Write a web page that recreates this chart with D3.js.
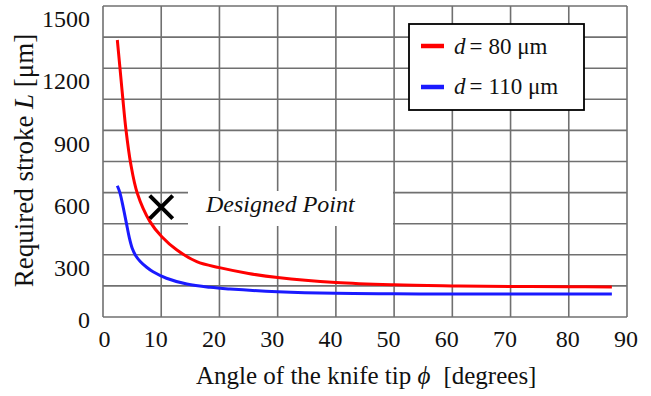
<!DOCTYPE html>
<html>
<head>
<meta charset="utf-8">
<script src="https://cdn.jsdelivr.net/npm/d3@7"></script>
<style>
  html, body { margin: 0; padding: 0; background: #fff; }
</style>
</head>
<body>
<div id="chart"></div>
<script>
// knife tip angle (deg) and required stroke (um)
const redPhi = [2.46, 2.9, 3.4, 3.95, 4.75, 5.89, 8.07, 10.1, 12.7, 16.1, 20, 25, 30, 40, 50, 60, 70, 80, 87.4];
const redL   = [1336, 1205, 1055, 902, 741, 597, 460, 387, 323, 267, 238, 210, 190, 166, 155, 150, 147, 146, 145];
const bluePhi = [2.46, 2.9, 3.5, 4.0, 4.5, 5.0, 5.6, 6.4, 7.5, 8.6, 10.9, 14.4, 18.4, 21.8, 30, 40, 50, 60, 70, 87.4];
const blueL   = [633, 600, 525, 455, 385, 333, 297, 268, 240, 218, 187, 159, 143, 135, 122, 114, 112, 111, 111, 111];
const legendLabels = ['80 \u03bcm', '110 \u03bcm'];
const xTicks = [0, 10, 20, 30, 40, 50, 60, 70, 80, 90];
const yTicks = [0, 300, 600, 900, 1200, 1500];
const yGrid = [150, 300, 450, 600, 750, 900, 1050, 1200, 1350, 1500];
const designPoint = [10, 530];

const FONT = '"Liberation Serif", "Times New Roman", Times, serif';
const W = 651, H = 396;
const svg = d3.select('#chart').append('svg').attr('width', W).attr('height', H);

const x = d3.scaleLinear().domain([0, 90]).range([103, 627]);
const y = d3.scaleLinear().domain([0, 1500]).range([317, 6]);

// grid
const grid = svg.append('g').attr('stroke', '#707070').attr('stroke-width', 1.6);
grid.selectAll('.vg').data(xTicks).enter().append('line')
  .attr('x1', d => x(d)).attr('x2', d => x(d))
  .attr('y1', y(0)).attr('y2', y(1500));
grid.selectAll('.hg').data([0].concat(yGrid)).enter().append('line')
  .attr('x1', x(0)).attr('x2', x(90))
  .attr('y1', d => y(d)).attr('y2', d => y(d));

// white box behind the annotation
svg.append('rect').attr('x', 188).attr('y', 191).attr('width', 205).attr('height', 35).attr('fill', '#fff');

// tick labels (grid draws the lines)
const xAxis = svg.append('g').attr('transform', 'translate(0,317)')
  .call(d3.axisBottom(x).tickValues(xTicks).tickFormat(d3.format('d')).tickSize(0).tickPadding(13));
xAxis.select('.domain').remove();
xAxis.selectAll('text').style('font-size', '24px')
  .attr('dx', d => d === 0 ? 1 : (d >= 80 ? -1.5 : -6));

const yAxis = svg.append('g').attr('transform', 'translate(103,0)')
  .call(d3.axisLeft(y).tickValues(yTicks).tickFormat(d3.format('d')).tickSize(0).tickPadding(13));
yAxis.select('.domain').remove();
yAxis.selectAll('text').style('font-size', '24px')
  .attr('dy', d => d === 0 ? '0.43em' : '0.86em');

// curves
const line = d3.line().x(d => x(d[0])).y(d => y(d[1])).curve(d3.curveCatmullRom.alpha(0.5));
svg.append('path').datum(redPhi.map((p, i) => [p, redL[i]]))
  .attr('d', line).attr('fill', 'none').attr('stroke', '#ff0000').attr('stroke-width', 3);
svg.append('path').datum(bluePhi.map((p, i) => [p, blueL[i]]))
  .attr('d', line).attr('fill', 'none').attr('stroke', '#1a1aff').attr('stroke-width', 3);

// designed point marker
const cx = x(designPoint[0]), cy = y(designPoint[1]), s = 11.5;
svg.append('path')
  .attr('d', `M${cx - s},${cy - s}L${cx + s},${cy + s}M${cx - s},${cy + s}L${cx + s},${cy - s}`)
  .attr('stroke', '#000').attr('stroke-width', 4);
svg.append('text').attr('x', 206).attr('y', 212)
  .style('font-size', '24px').style('font-style', 'italic').text('Designed Point');

// legend
const lg = svg.append('g');
lg.append('rect').attr('x', 409).attr('y', 24).attr('width', 175).attr('height', 86)
  .attr('fill', '#fff').attr('stroke', '#000').attr('stroke-width', 1.8);
[['#ff0000', 46, 54], ['#1a1aff', 87, 94]].forEach((c, i) => {
  lg.append('line').attr('x1', 421).attr('x2', 444).attr('y1', c[1]).attr('y2', c[1])
    .attr('stroke', c[0]).attr('stroke-width', 4.5);
  const t = lg.append('text').attr('x', 454).attr('y', c[2]).style('font-size', '23px');
  t.append('tspan').style('font-style', 'italic').text('d');
  t.append('tspan').attr('dx', 4).text('=');
  t.append('tspan').attr('dx', 6).text(legendLabels[i]);
});

// axis titles
const xt = svg.append('text').attr('x', 196).attr('y', 384).style('font-size', '25px');
xt.append('tspan').text('Angle of the knife tip ');
xt.append('tspan').style('font-style', 'italic').text('\u03d5');
xt.append('tspan').attr('dx', 13).text('[degrees]');

const yt = svg.append('text').attr('transform', 'translate(33,160.5) rotate(-90)')
  .attr('text-anchor', 'middle').style('font-size', '27px');
yt.append('tspan').text('Required stroke ');
yt.append('tspan').style('font-style', 'italic').text('L');
yt.append('tspan').text(' [\u03bcm]');

svg.selectAll('text').style('font-family', FONT).attr('fill', '#111');
</script>
</body>
</html>
